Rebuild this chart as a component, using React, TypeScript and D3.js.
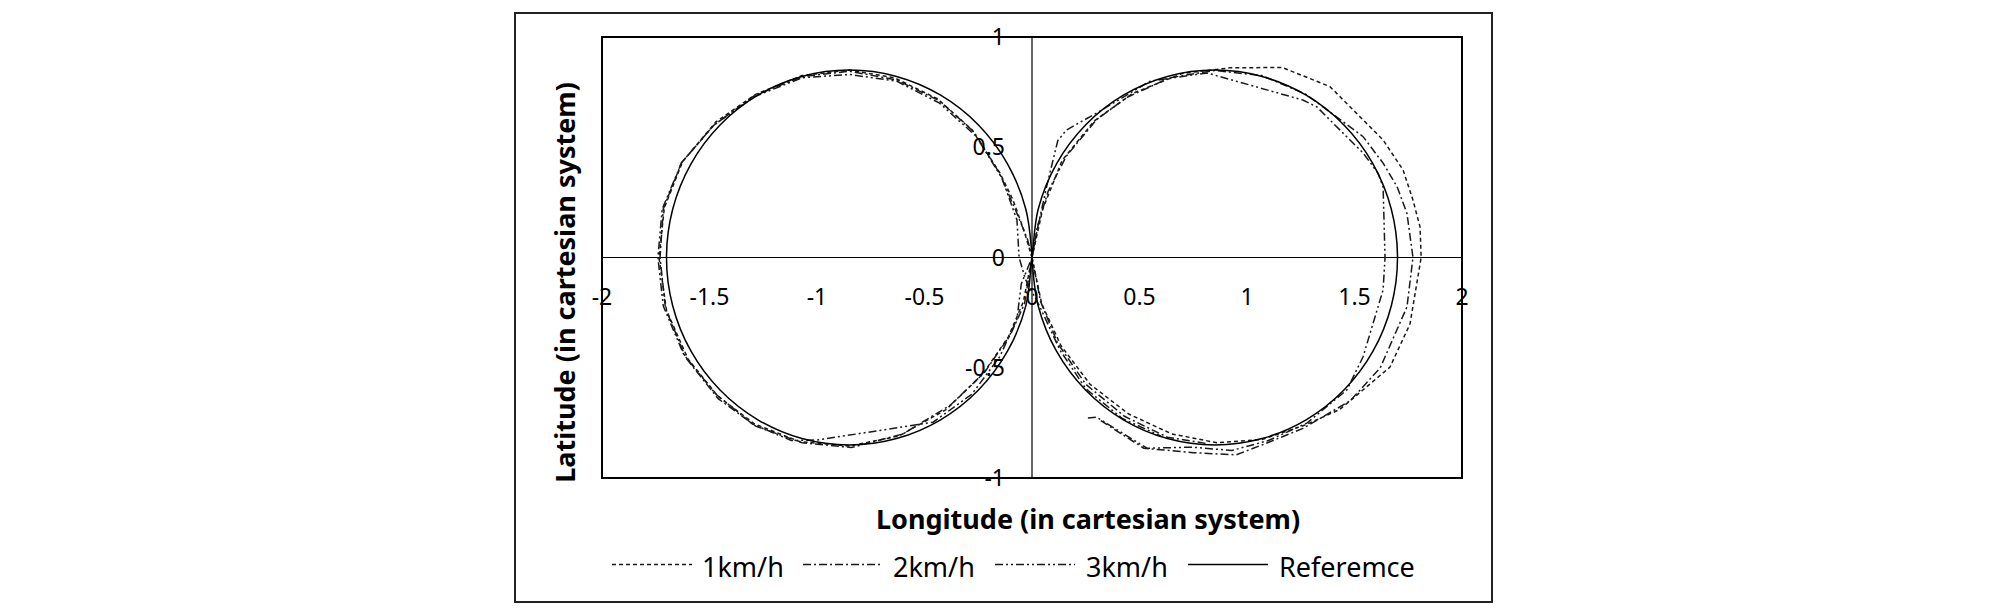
import React from "react";
import * as d3 from "d3";

type P = [number, number];

const xTicks = [-2, -1.5, -1, -0.5, 0, 0.5, 1, 1.5, 2];
const yTicks = [-1, -0.5, 0, 0.5, 1];
const seriesNames = ["1km/h", "2km/h", "3km/h", "Referemce"];

const reference: P[] = [
  [0, 0], [0.029, -0.22], [0.114, -0.425], [0.249, -0.601], [0.425, -0.736], [0.63, -0.821],
  [0.85, -0.85], [1.07, -0.821], [1.275, -0.736], [1.451, -0.601], [1.586, -0.425], [1.671, -0.22],
  [1.7, 0], [1.671, 0.22], [1.586, 0.425], [1.451, 0.601], [1.275, 0.736], [1.07, 0.821],
  [0.85, 0.85], [0.63, 0.821], [0.425, 0.736], [0.249, 0.601], [0.114, 0.425], [0.029, 0.22],
  [0, 0], [-0.029, -0.22], [-0.114, -0.425], [-0.249, -0.601], [-0.425, -0.736], [-0.63, -0.821],
  [-0.85, -0.85], [-1.07, -0.821], [-1.275, -0.736], [-1.451, -0.601], [-1.586, -0.425], [-1.671, -0.22],
  [-1.7, 0], [-1.671, 0.22], [-1.586, 0.425], [-1.451, 0.601], [-1.275, 0.736], [-1.07, 0.821],
  [-0.85, 0.85], [-0.63, 0.821], [-0.425, 0.736], [-0.249, 0.601], [-0.114, 0.425], [-0.029, 0.22],
  [0, 0],
];

const speed1: P[] = [
  [0, 0], [0.045, -0.21], [0.135, -0.4], [0.27, -0.575], [0.45, -0.71], [0.65, -0.8],
  [0.86, -0.84], [1.07, -0.825], [1.27, -0.76], [1.43, -0.69], [1.54, -0.6], [1.665, -0.497],
  [1.758, -0.302], [1.81, 0], [1.805, 0.138], [1.772, 0.26], [1.726, 0.397], [1.633, 0.533],
  [1.54, 0.624], [1.386, 0.775], [1.163, 0.862], [0.92, 0.86], [0.7, 0.835], [0.47, 0.745],
  [0.29, 0.62], [0.14, 0.44], [0.05, 0.22], [0, 0],
  [-0.04, -0.2], [-0.11, -0.36], [-0.23, -0.53], [-0.4, -0.69], [-0.62, -0.81], [-0.85, -0.855],
  [-1.08, -0.835], [-1.29, -0.755], [-1.46, -0.63], [-1.6, -0.46], [-1.7, -0.24], [-1.735, 0],
  [-1.71, 0.225], [-1.625, 0.435], [-1.47, 0.615], [-1.285, 0.74], [-1.07, 0.825], [-0.85, 0.85],
  [-0.64, 0.815], [-0.44, 0.72], [-0.28, 0.58], [-0.15, 0.385], [-0.088, 0.26], [-0.04, 0.13],
  [0, 0],
];

const speed2: P[] = [
  [0.32, -0.74], [0.52, -0.865], [0.75, -0.885], [0.95, -0.895], [1.07, -0.85], [1.26, -0.775],
  [1.48, -0.65], [1.62, -0.5], [1.744, -0.224], [1.772, 0], [1.744, 0.2], [1.698, 0.321],
  [1.633, 0.428], [1.54, 0.548], [1.386, 0.66], [1.275, 0.74], [1.07, 0.825], [0.85, 0.848],
  [0.64, 0.815], [0.44, 0.725], [0.3, 0.625], [0.16, 0.46], [0.075, 0.3], [0.025, 0.14], [0, 0],
  [-0.035, -0.21], [-0.1, -0.35], [-0.22, -0.52], [-0.38, -0.67], [-0.6, -0.8], [-0.84, -0.862],
  [-1.07, -0.84], [-1.285, -0.765], [-1.46, -0.64], [-1.61, -0.455], [-1.705, -0.23], [-1.73, 0],
  [-1.715, 0.22], [-1.63, 0.43], [-1.48, 0.6], [-1.29, 0.735], [-1.07, 0.82], [-0.85, 0.845],
  [-0.63, 0.805], [-0.43, 0.71], [-0.27, 0.57], [-0.15, 0.38], [-0.07, 0.2], [-0.02, 0.08], [0, 0],
  [0.04, -0.2], [0.12, -0.39], [0.25, -0.575], [0.43, -0.72], [0.63, -0.815], [0.82, -0.845],
];

const speed3: P[] = [
  [0.26, -0.728], [0.3, -0.724], [0.535, -0.865], [0.74, -0.86], [0.93, -0.875], [1.1, -0.83],
  [1.28, -0.75], [1.465, -0.6], [1.54, -0.45], [1.633, -0.147], [1.642, 0], [1.633, 0.32],
  [1.609, 0.383], [1.54, 0.474], [1.447, 0.564], [1.325, 0.683], [1.26, 0.714], [0.814, 0.837],
  [0.55, 0.8], [0.3, 0.655], [0.16, 0.578], [0.12, 0.53], [0.07, 0.33], [0.025, 0.13], [0, 0],
  [-0.05, -0.12], [-0.07, -0.28], [-0.15, -0.45], [-0.28, -0.62], [-0.46, -0.747], [-1.0, -0.828],
  [-1.12, -0.83], [-1.3, -0.755], [-1.47, -0.62], [-1.62, -0.44], [-1.715, -0.22], [-1.74, 0],
  [-1.72, 0.22], [-1.63, 0.43], [-1.48, 0.6], [-1.29, 0.73], [-1.07, 0.815], [-0.85, 0.83],
  [-0.63, 0.8], [-0.43, 0.7], [-0.26, 0.55], [-0.14, 0.36], [-0.07, 0.17], [-0.06, 0], [-0.03, -0.1],
  [0.035, -0.22], [0.13, -0.42], [0.25, -0.595], [0.42, -0.73], [0.6, -0.81],
];

const FONT = "'Noto Sans', 'DejaVu Sans', sans-serif";

export default function App() {
  const x = d3.scaleLinear().domain([-2, 2]).range([602, 1462]);
  const y = d3.scaleLinear().domain([-1, 1]).range([478, 37]);

  const straight = d3.line<P>().x((d) => x(d[0])).y((d) => y(d[1]));
  const smooth = d3
    .line<P>()
    .x((d) => x(d[0]))
    .y((d) => y(d[1]))
    .curve(d3.curveCatmullRom.alpha(0.5));

  const series = [
    { name: seriesNames[0], data: speed1, dash: "4,3", path: straight, legendX: 612, textX: 702 },
    { name: seriesNames[1], data: speed2, dash: "8,3,2,3", path: straight, legendX: 803, textX: 893 },
    { name: seriesNames[2], data: speed3, dash: "8,3,2,3,2,3", path: straight, legendX: 995, textX: 1086 },
    { name: seriesNames[3], data: reference, dash: "none", path: smooth, legendX: 1188, textX: 1279 },
  ];

  const [x0, x1] = x.range();
  const [y0, y1] = y.range();

  return (
    <svg
      width={2008}
      height={609}
      style={{ position: "absolute", left: 0, top: 0, background: "#fff" }}
      fontFamily={FONT}
    >
      <rect x={0} y={0} width={2008} height={609} fill="#fff" />
      <rect x={515} y={13} width={977} height={589} fill="none" stroke="#222" strokeWidth={2} />

      {/* plot area border */}
      <rect x={x0} y={y1} width={x1 - x0} height={y0 - y1} fill="none" stroke="#000" strokeWidth={2} />

      {/* axes through origin */}
      <line x1={x0} x2={x1} y1={y(0)} y2={y(0)} stroke="#000" strokeWidth={1.2} />
      <line x1={x(0)} x2={x(0)} y1={y1} y2={y0} stroke="#000" strokeWidth={1.2} />

      {/* series */}
      {series.map((s) => (
        <path
          key={s.name}
          d={s.path(s.data) || ""}
          fill="none"
          stroke={s.dash === "none" ? "#000" : "#1a1a1a"}
          strokeWidth={1.5}
          strokeDasharray={s.dash === "none" ? undefined : s.dash}
        />
      ))}

      {/* x tick labels */}
      {xTicks.map((t) => (
        <text key={"x" + t} x={x(t)} y={305} textAnchor="middle" fontSize={23} fill="#000">
          {String(t)}
        </text>
      ))}
      {/* y tick labels */}
      {yTicks.map((t) => (
        <text key={"y" + t} x={1005} y={y(t) + 8} textAnchor="end" fontSize={23} fill="#000">
          {String(t)}
        </text>
      ))}

      {/* axis titles */}
      <text x={1088} y={529} textAnchor="middle" fontSize={27} fontWeight="bold" fill="#000">
        Longitude (in cartesian system)
      </text>
      <text
        transform={`translate(575,282.5) rotate(-90)`}
        textAnchor="middle"
        fontSize={27}
        fontWeight="bold"
        fill="#000"
      >
        Latitude (in cartesian system)
      </text>

      {/* legend */}
      {series.map((s) => (
        <g key={"lg" + s.name}>
          <line
            x1={s.legendX}
            x2={s.legendX + 80}
            y1={564.5}
            y2={564.5}
            stroke={s.dash === "none" ? "#000" : "#1a1a1a"}
            strokeWidth={1.5}
            strokeDasharray={s.dash === "none" ? undefined : s.dash}
          />
          <text x={s.textX} y={577} fontSize={27} fill="#000">
            {s.name}
          </text>
        </g>
      ))}
    </svg>
  );
}
